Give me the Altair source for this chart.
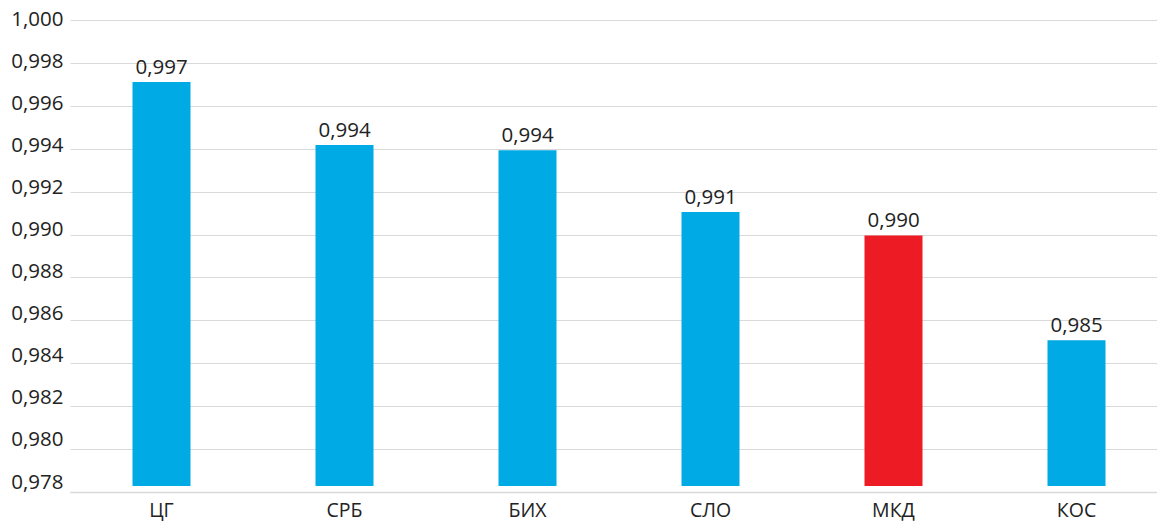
import altair as alt
import pandas as pd

countries = ["ЦГ", "СРБ", "БИХ", "СЛО", "МКД", "КОС"]
values = [0.99711, 0.99417, 0.99393, 0.99105, 0.98996, 0.98507]
colors = ["#00AAE4", "#00AAE4", "#00AAE4", "#00AAE4", "#ED1C24", "#00AAE4"]
y_ticks = [0.978, 0.980, 0.982, 0.984, 0.986, 0.988, 0.990, 0.992, 0.994, 0.996, 0.998, 1.000]
bar_base = 0.97828

df = pd.DataFrame({"country": countries, "value": values, "color": colors})
df["label"] = [f"{v:.3f}".replace(".", ",") for v in values]

FONT = "Open Sans"
TXT = "#222222"

x = alt.X("country:N", sort=countries, title=None,
          scale=alt.Scale(range=[0, 1098], paddingInner=0.683, paddingOuter=0.3415),
          axis=alt.Axis(labelAngle=0, labelFont=FONT, labelFontSize=19.5, labelColor=TXT,
                        labelPadding=9, ticks=False, domain=True, domainColor="#D9D9D9",
                        domainWidth=1.5, grid=False))
y = alt.Y("value:Q", title=None,
          scale=alt.Scale(domain=[0.978, 1.000], zero=False, nice=False),
          axis=alt.Axis(values=y_ticks,
                        labelExpr="replace(format(datum.value, '.3f'), '.', ',')",
                        labelOffset={"expr": "-(1 + 9 * (1 - (datum.value - 0.978) / 0.022))"},
                        labelFont=FONT, labelFontSize=20.5, labelColor=TXT,
                        labelPadding=7, ticks=False, domain=False,
                        grid=True, gridColor="#D9D9D9", gridWidth=1))

base = alt.Chart(df)
bars = base.mark_bar().encode(
    x=x, y=y, y2=alt.datum(bar_base),
    color=alt.Color("color:N", scale=None),
)
text = base.mark_text(baseline="alphabetic", dy=-8, font=FONT, fontSize=20.5, color=TXT).encode(
    x=alt.X("country:N", sort=countries), y="value:Q", text="label:N"
)

chart = (bars + text).properties(
    width=1086, height=472,
    autosize=alt.AutoSizeParams(type="none"),
    padding={"left": 70, "top": 20, "right": 1, "bottom": 32},
    background="white",
).configure_view(stroke=None)

chart.save("out.html", embed_options={"renderer": "svg", "actions": False})
